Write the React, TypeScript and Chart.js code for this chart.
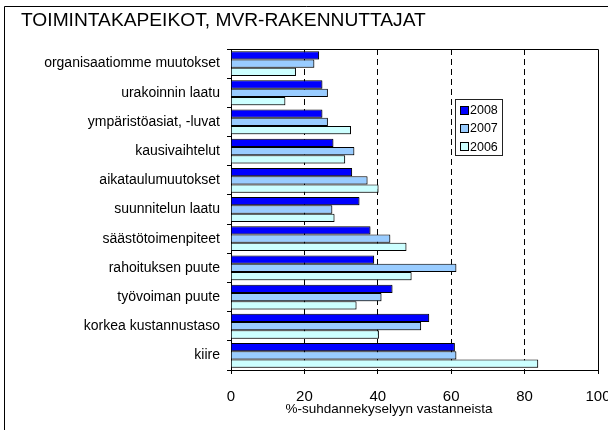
import React, { useEffect, useRef } from "react";
import { Chart, registerables } from "chart.js";

Chart.register(...registerables);

const chartTitle = "TOIMINTAKAPEIKOT, MVR-RAKENNUTTAJAT";
const xAxisTitle = "%-suhdannekyselyyn vastanneista";
const categories = [
  "organisaatiomme muutokset",
  "urakoinnin laatu",
  "ympäristöasiat, -luvat",
  "kausivaihtelut",
  "aikataulumuutokset",
  "suunnitelun laatu",
  "säästötoimenpiteet",
  "rahoituksen puute",
  "työvoiman puute",
  "korkea kustannustaso",
  "kiire",
];
const seriesLabels = ["2008", "2007", "2006"];
const values2008 = [24, 24.9, 24.9, 27.9, 33, 35, 38, 39, 44, 54, 61];
const values2007 = [22.7, 26.4, 26.4, 33.6, 37.2, 27.6, 43.4, 61.4, 41, 51.8, 61.4];
const values2006 = [17.7, 14.8, 32.7, 31.1, 40.2, 28.2, 47.8, 49.2, 34.2, 40.3, 83.7];
const seriesColors = ["#0000FF", "#99CCFF", "#CCFFFF"];
const xMin = 0;
const xMax = 100;
const xStep = 20;

const FONT = "'Liberation Sans', Arial, sans-serif";

const shadowPlugin = {
  id: "barShadow",
  beforeDatasetsDraw(chart: any) {
    const ctx = chart.ctx as CanvasRenderingContext2D;
    ctx.save();
    ctx.shadowColor = "rgba(0,0,0,0.3)";
    ctx.shadowOffsetX = 1;
    ctx.shadowOffsetY = 1;
    ctx.shadowBlur = 0;
  },
  afterDatasetsDraw(chart: any) {
    chart.ctx.restore();
  },
};

const decorPlugin = {
  id: "decor",
  afterDraw(chart: any) {
    const ctx = chart.ctx as CanvasRenderingContext2D;
    const area = chart.chartArea;
    ctx.save();
    // outer frame
    ctx.strokeStyle = "#000";
    ctx.lineWidth = 1;
    ctx.beginPath();
    ctx.moveTo(4.5, 430);
    ctx.lineTo(4.5, 6.5);
    ctx.lineTo(608, 6.5);
    ctx.stroke();
    // plot box top & right
    const l = Math.round(area.left) + 0.5;
    const r = Math.round(area.right) + 0.5;
    const t = Math.round(area.top) + 0.5;
    const b = Math.round(area.bottom) + 0.5;
    ctx.beginPath();
    ctx.moveTo(l, t);
    ctx.lineTo(r, t);
    ctx.lineTo(r, b);
    ctx.stroke();
    // title
    ctx.fillStyle = "#000";
    ctx.font = `19.2px ${FONT}`;
    ctx.textAlign = "left";
    ctx.textBaseline = "middle";
    ctx.fillText(chartTitle, 21, 21);
    // x axis title
    ctx.font = `13.5px ${FONT}`;
    ctx.textAlign = "center";
    ctx.fillText(xAxisTitle, 389, 409);
    // legend
    const lx = 455.5, ly = 99.5, lw = 47, lh = 56;
    ctx.fillStyle = "#fff";
    ctx.fillRect(lx, ly, lw, lh);
    ctx.strokeStyle = "#222";
    ctx.strokeRect(lx, ly, lw, lh);
    ctx.font = `12.5px ${FONT}`;
    ctx.textAlign = "left";
    ctx.textBaseline = "middle";
    seriesLabels.forEach((lab, i) => {
      const cy = 110 + i * 18.3;
      ctx.fillStyle = seriesColors[i];
      ctx.fillRect(460.5, Math.round(cy - 4.5) + 0.5, 8, 8);
      ctx.strokeStyle = "#000";
      ctx.strokeRect(460.5, Math.round(cy - 4.5) + 0.5, 8, 8);
      ctx.fillStyle = "#000";
      ctx.fillText(lab, 470, cy + 0.5);
    });
    ctx.restore();
  },
};

export default function App() {
  const ref = useRef<HTMLCanvasElement | null>(null);
  useEffect(() => {
    if (!ref.current) return;
    const data = [values2008, values2007, values2006];
    const chart = new Chart(ref.current, {
      type: "bar",
      data: {
        labels: categories,
        datasets: seriesLabels.map((lab, i) => ({
          label: lab,
          data: data[i],
          backgroundColor: seriesColors[i],
          borderColor: "#000",
          borderWidth: 1,
          categoryPercentage: 0.85,
          barPercentage: 1.0,
        })),
      },
      options: {
        indexAxis: "y",
        animation: false,
        responsive: false,
        devicePixelRatio: 1,
        layout: { padding: { top: 49, right: 10, left: 0, bottom: 0 } },
        plugins: {
          legend: { display: false },
          title: { display: false },
          tooltip: { enabled: false },
        },
        scales: {
          x: {
            type: "linear",
            min: xMin,
            max: xMax,
            ticks: {
              stepSize: xStep,
              color: "#000",
              font: { family: FONT, size: 15 },
              padding: 14,
              maxRotation: 0,
            },
            grid: {
              color: (c: any) =>
                c.tick && (c.tick.value === xMin || c.tick.value === xMax) ? "rgba(0,0,0,0)" : "#000",
              tickBorderDash: [],
              tickColor: "#000",
              tickLength: 4,
              lineWidth: 1,
            } as any,
            border: { color: "#000", width: 1, dash: [6, 4] },
            afterFit: (s: any) => {
              s.height = 60;
              s.paddingLeft = 0;
              s.paddingRight = 0;
            },
          } as any,
          y: {
            type: "category",
            ticks: {
              color: "#000",
              font: { family: FONT, size: 14 },
              padding: 7,
              autoSkip: false,
            },
            grid: {
              drawOnChartArea: false,
              drawTicks: true,
              tickLength: 4,
              tickColor: "#000",
              color: "#000",
              offset: true,
            },
            border: { color: "#000", width: 1 },
            afterFit: (s: any) => {
              s.width = 231;
              s.paddingTop = 0;
              s.paddingBottom = 0;
            },
          } as any,
        },
      } as any,
      plugins: [shadowPlugin, decorPlugin],
    });
    return () => chart.destroy();
  }, []);
  return (
    <div style={{ position: "fixed", left: 0, top: 0, width: 608, height: 430, background: "#fff" }}>
      <canvas ref={ref} width={608} height={430} style={{ display: "block" }} />
    </div>
  );
}
